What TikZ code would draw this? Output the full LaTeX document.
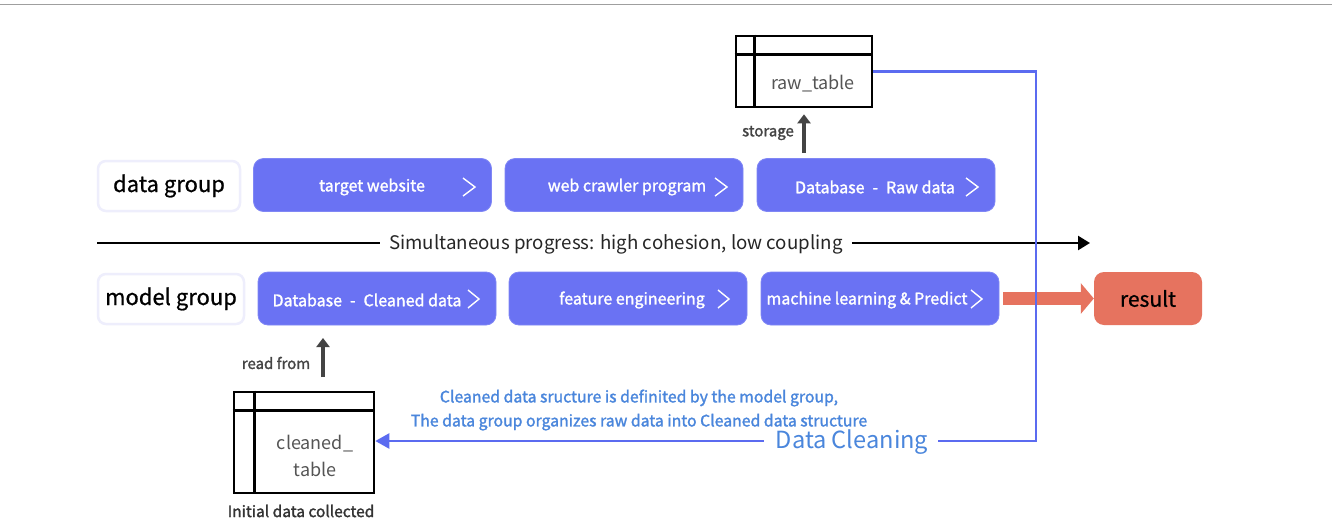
\documentclass[tikz,border=0pt]{standalone}
\usepackage{fontspec}
\setmainfont{Noto Sans CJK SC}
\newfontfamily\medf{Noto Sans CJK SC}[FakeBold=1.6]
\newfontfamily\lightb{Noto Sans CJK SC}[FakeBold=0.8]
\usetikzlibrary{arrows.meta}
\definecolor{stepblue}{HTML}{6A72F3}
\definecolor{lav}{HTML}{EEEEFC}
\definecolor{resorange}{HTML}{E6735F}
\definecolor{lineblue}{HTML}{5B6BF0}
\definecolor{txtblue}{HTML}{4A86DC}
\definecolor{tblgray}{HTML}{555555}
\definecolor{arrgray}{HTML}{444444}
\tikzset{
  grp/.style={draw=lav, line width=2.5pt, fill=white, rounded corners=8pt, minimum width=142pt, minimum height=50pt, inner sep=0pt, font=\lightb\fontsize{22}{24}\selectfont},
  stepbox/.style={fill=stepblue, draw=stepblue!85!white, line width=0.8pt, rounded corners=10pt, minimum width=238pt, minimum height=53pt, inner sep=0pt},
  steptext/.style={text=white, font=\medf\fontsize{16}{18}\selectfont, inner sep=0pt},
  chev/.style={draw=white, line width=1.4pt},
  tbl/.style={draw=black, line width=2.6pt, inner sep=0pt},
  tblline/.style={draw=black, line width=2.6pt},
  tbltext/.style={text=tblgray, font=\fontsize{18}{27}\selectfont, align=center, inner sep=0pt},
  small/.style={text=arrgray, font=\medf\fontsize{15}{17}\selectfont, inner sep=0pt},
  uparrow/.style={draw=arrgray, line width=4.5pt, -{Triangle[length=9pt,width=13pt]}},
}
\begin{document}
\begin{tikzpicture}[x=1pt,y=-1pt]
\useasboundingbox (0,0) rectangle (1332,528);
\fill[white] (0,0) rectangle (1332,528);
\draw[gray!75, line width=1.5pt] (0,4.5) -- (1332,4.5);

% data group row
\node[grp] (dg) at (169,186) {data group};
\node[stepbox] (s1) at (372.5,185) {};
\node[steptext] (t1) at (372,187) {target website};
\draw[chev] (463,178) -- (475,187) -- (463,196);
\node[stepbox] (s2) at (624,185) {};
\node[steptext] (t2) at (627,187) {web crawler program};
\draw[chev] (715,178) -- (727,187) -- (715,196);
\node[stepbox] (s3) at (876,185) {};
\node[steptext] (t3) at (875,187) {Database\enspace-\enspace Raw data};
\draw[chev] (966,178) -- (978,187) -- (966,196);

% raw table
\node[tbl, minimum width=136pt, minimum height=71pt] (raw) at (804,71.5) {};
\draw[tblline] ([yshift=-19.5pt]raw.north west) -- ([yshift=-19.5pt]raw.north east);
\draw[tblline] ([xshift=20pt]raw.north west) -- ([xshift=20pt]raw.south west);
\node[tbltext] (rawt) at (813,83.5) {raw\_table};
\coordinate (sa) at (804,153);
\draw[uparrow] (sa) -- ([yshift=-6pt]raw.south -| sa);
\node[small] (stor) at (768,133) {storage};

% middle arrow
\coordinate (hs) at (97,243);
\coordinate (he) at (1090,243);
\node[font=\fontsize{18.7}{20}\selectfont, text=black!85, inner sep=0pt] (prog) at (616,244) {Simultaneous progress: high cohesion, low coupling};
\draw[line width=2.4pt] (hs) -- ([xshift=-9pt]prog.west |- hs);
\draw[line width=2.4pt, -{Triangle[length=12pt,width=14pt]}] ([xshift=9pt]prog.east |- he) -- (he);

% model group row
\node[grp, minimum width=146pt] (mg) at (171,299) {model group};
\node[stepbox] (m1) at (377,298.5) {};
\node[steptext] (u1) at (367,300) {Database\enspace-\enspace Cleaned data};
\draw[chev] (468,290) -- (479,299) -- (468,308);
\node[stepbox] (m2) at (628,298.5) {};
\node[steptext] (u2) at (632,300) {feature engineering};
\draw[chev] (718,290) -- (729,299) -- (718,308);
\node[stepbox] (m3) at (880,298.5) {};
\node[steptext] (u3) at (867,300) {machine learning \& Predict};
\draw[chev] (971,290) -- (982,299) -- (971,308);
\node[fill=resorange, rounded corners=10pt, minimum width=108pt, minimum height=53pt, inner sep=0pt, font=\lightb\fontsize{21}{22}\selectfont] (res) at (1148,298.5) {result};

% orange arrow
\draw[resorange, line width=13pt, -{Triangle[length=13pt,width=30pt]}, shorten <=4pt] (m3.east) -- (res.west);

% blue feedback line
\coordinate (bc) at (1036,441);
\node[text=txtblue, font=\fontsize{23.6}{26}\selectfont, inner sep=0pt] (dc) at (852,442) {Data Cleaning};
\draw[lineblue, line width=2.4pt] (raw.east) -| (bc) -- ([xshift=10pt]dc.east |- bc);

% cleaned table
\node[tbl, minimum width=140pt, minimum height=101pt] (ct) at (304,442.5) {};
\draw[tblline] ([yshift=-20pt]ct.north west) -- ([yshift=-20pt]ct.north east);
\draw[tblline] ([xshift=22pt]ct.north west) -- ([xshift=22pt]ct.south west);
\node[tbltext] (ctt) at (315,456) {cleaned\_\\table};
\coordinate (ra) at (323,377);
\draw[uparrow] (ra) -- (323,338);
\node[small] (rf) at (276,363) {read from};
\node[small, text=black!80, font=\medf\fontsize{15.5}{17}\selectfont] (init) at (301,511) {Initial data collected};

\draw[lineblue, line width=2.4pt, -{Triangle[length=14pt,width=15pt]}] ([xshift=-12pt]dc.west |- bc) -- (bc -| ct.east);
\node[text=txtblue, font=\medf\fontsize{15.8}{24}\selectfont, align=center, inner sep=0pt] (note) at (639,410) {Cleaned data sructure is definited by the model group,\\The data group organizes raw data into Cleaned data structure};
\end{tikzpicture}
\end{document}
